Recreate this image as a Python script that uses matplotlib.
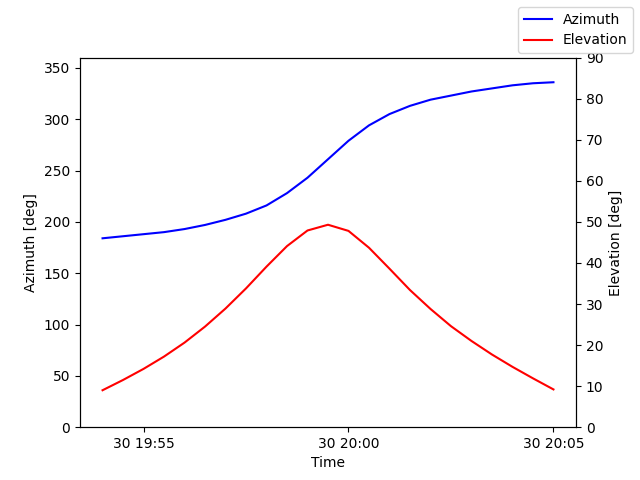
import matplotlib
matplotlib.use("Agg")
import matplotlib.pyplot as plt
import matplotlib.dates as mdates
import pandas as pd

times = pd.date_range("2024-01-30 19:54:00", "2024-01-30 20:05:00", freq="30s")
azimuth = [184, 186, 188, 190, 193, 197, 202, 208, 216, 228, 243, 261, 279, 294, 305, 313, 319, 323, 327, 330, 333, 335, 336]
elevation = [9, 11.5, 14.2, 17.2, 20.6, 24.5, 28.9, 33.8, 39.1, 44.1, 47.9, 49.3, 47.8, 43.7, 38.6, 33.4, 28.8, 24.6, 21, 17.7, 14.7, 11.9, 9.2]

fig, ax = plt.subplots(figsize=(6.4, 4.8), dpi=100)
ax.plot(times, azimuth, color="blue", label="Azimuth")
ax.set_ylim(0, 360)
ax.set_ylabel("Azimuth [deg]")
ax.set_xlabel("Time")
ax2 = ax.twinx()
ax2.plot(times, elevation, color="red", label="Elevation")
ax2.set_ylim(0, 90)
ax2.set_ylabel("Elevation [deg]")
ax.xaxis.set_major_locator(mdates.MinuteLocator(byminute=range(0, 60, 5)))
ax.xaxis.set_major_formatter(mdates.DateFormatter("%d %H:%M"))
fig.legend(loc="upper right")
fig.savefig("out.png")
